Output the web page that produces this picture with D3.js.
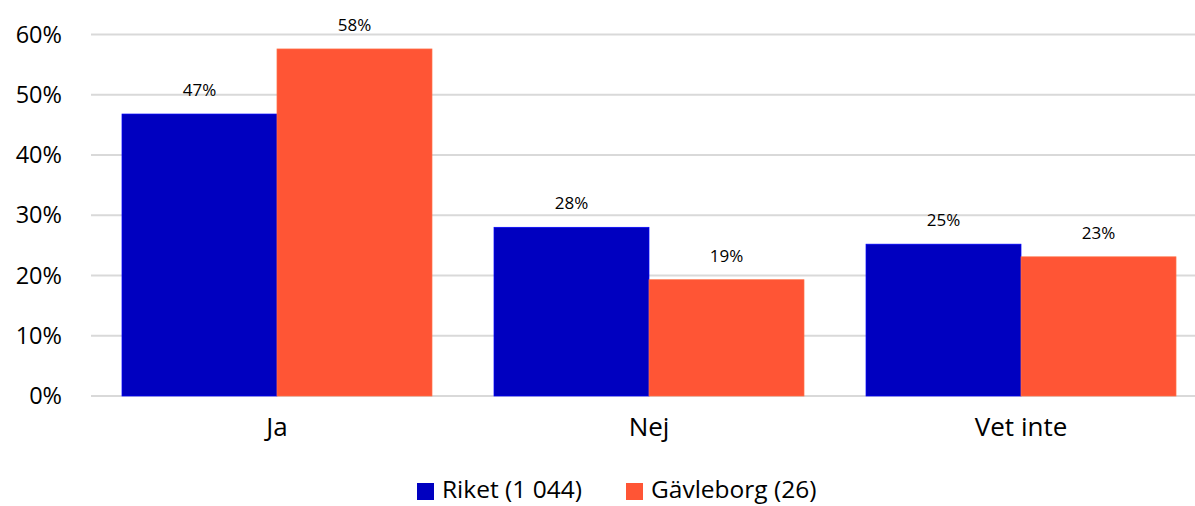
<!DOCTYPE html>
<html><head><meta charset="utf-8">
<script src="https://cdn.jsdelivr.net/npm/d3@7"></script>
<style>body{margin:0;background:#fff}svg{display:block;font-family:"Open Sans",sans-serif}</style>
</head><body><svg id="c" width="1195" height="506"></svg>
<script>
const categories = ["Ja", "Nej", "Vet inte"];
const seriesNames = ["Riket (1 044)", "Gävleborg (26)"];
const riket = [46.8, 28.0, 25.2];
const gavleborg = [57.6, 19.3, 23.1];
const yTicks = [0, 10, 20, 30, 40, 50, 60];
const colors = ["#0000C0", "#FF5535"];

const svg = d3.select("#c");
const x = d3.scaleBand().domain(categories).range([91, 1207]).paddingInner(0.1667).paddingOuter(0.0833);
const xs = d3.scaleBand().domain([0, 1]).range([0, x.bandwidth()]);
const y = d3.scaleLinear().domain([0, 60]).range([396, 34.5]);

// gridlines
svg.append("g").selectAll("line").data(yTicks).join("line")
  .attr("x1", 91).attr("x2", 1195)
  .attr("y1", d => y(d)).attr("y2", d => y(d))
  .attr("stroke", "#d9d9d9").attr("stroke-width", 2);

// y axis labels
const ya = d3.axisLeft(y).tickValues(yTicks).tickFormat(d => d + "%").tickSize(0).tickPadding(0);
const yg = svg.append("g").attr("transform", "translate(62,0)").call(ya);
yg.select(".domain").remove();
yg.selectAll("text").attr("font-size", 23.5).attr("fill", "#000").attr("font-family", "'Open Sans',sans-serif");

// x axis labels
const xa = d3.axisBottom(x).tickSize(0).tickPadding(0);
const xg = svg.append("g").attr("transform", "translate(0,418)").call(xa);
xg.select(".domain").remove();
xg.selectAll("text").attr("font-size", 26).attr("fill", "#000").attr("font-family", "'Open Sans',sans-serif");

const series = [riket, gavleborg];
series.forEach((vals, si) => {
  const g = svg.append("g");
  g.selectAll("rect").data(vals).join("rect")
    .attr("x", (d, i) => x(categories[i]) + xs(si))
    .attr("width", xs.bandwidth())
    .attr("y", d => y(d))
    .attr("height", d => y(0) - y(d))
    .attr("fill", colors[si])
    .attr("stroke", d3.color(colors[si]).brighter(0.8))
    .attr("stroke-width", 0.7);
  g.selectAll("text").data(vals).join("text")
    .attr("x", (d, i) => x(categories[i]) + xs(si) + xs.bandwidth() / 2)
    .attr("y", d => y(d) - 18)
    .attr("text-anchor", "middle")
    .attr("font-size", 17)
    .attr("fill", "#000")
    .text(d => Math.round(d) + "%");
});

// legend
const legX = [417, 626];
seriesNames.forEach((n, i) => {
  svg.append("rect").attr("x", legX[i]).attr("y", 483).attr("width", 17).attr("height", 17).attr("fill", colors[i]);
  svg.append("text").attr("x", legX[i] + 25).attr("y", 498).attr("font-size", 24.5).attr("fill", "#000").text(n);
});
</script></body></html>
